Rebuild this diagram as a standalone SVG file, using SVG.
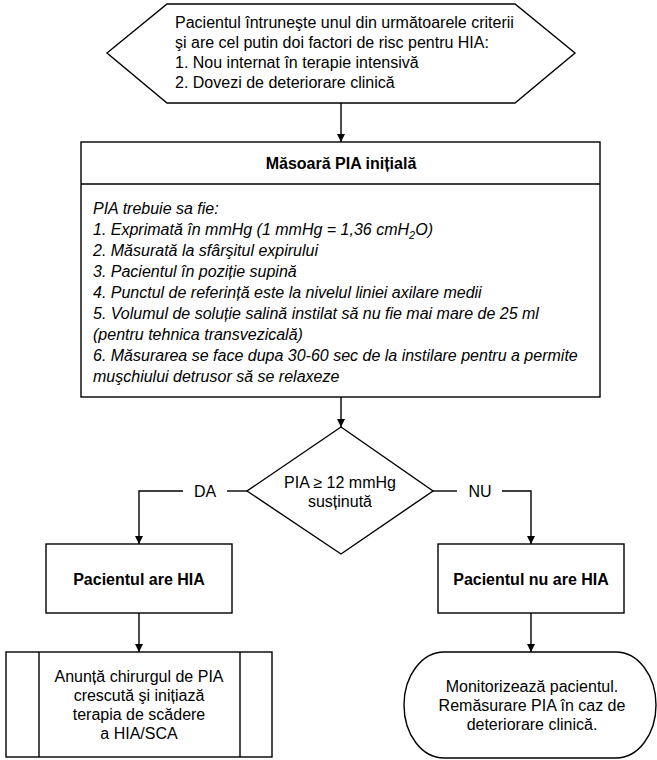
<svg xmlns="http://www.w3.org/2000/svg" width="657" height="760" viewBox="0 0 657 760">
<defs>
<style>
.s{fill:#fff;stroke:#000;stroke-width:1.4}
.c{fill:none;stroke:#000;stroke-width:1.4}
text{font-family:"Liberation Sans",Arial,sans-serif;font-size:16px;fill:#000}
.m{text-anchor:middle}
.b{font-weight:bold}
.i{font-style:italic}
</style>
<marker id="ah" viewBox="0 0 10 10" refX="10" refY="5" markerWidth="9" markerHeight="8" markerUnits="userSpaceOnUse" orient="auto">
<path d="M0,0 L10,5 L0,10 Z" fill="#000"/>
</marker>
</defs>
<rect width="657" height="760" fill="#fff"/>
<g id="connectors">
<line class="c" x1="341" y1="103" x2="341" y2="142" marker-end="url(#ah)"/>
<line class="c" x1="341" y1="397" x2="341" y2="427" marker-end="url(#ah)"/>
<polyline class="c" points="247,491 227,491"/>
<polyline class="c" points="183,491 139,491 139,544" marker-end="url(#ah)"/>
<polyline class="c" points="433,491 457,491"/>
<polyline class="c" points="502,491 531,491 531,544" marker-end="url(#ah)"/>
<line class="c" x1="139" y1="613" x2="139" y2="652" marker-end="url(#ah)"/>
<line class="c" x1="531" y1="613" x2="531" y2="652" marker-end="url(#ah)"/>
<text class="m" x="205" y="497">DA</text>
<text class="m" x="480" y="497">NU</text>
</g>
<g id="start">
<polygon class="s" points="107,53 167,4 515,4 575,53 515,103 167,103"/>
<text x="175" y="28">Pacientul întruneşte unul din următoarele criterii</text>
<text x="175" y="48">şi are cel putin doi factori de risc pentru HIA:</text>
<text x="175" y="68">1. Nou internat în terapie intensivă</text>
<text x="175" y="88">2. Dovezi de deteriorare clinică</text>
</g>
<g id="measure">
<rect class="s" x="81" y="142" width="519" height="255"/>
<line class="c" x1="81" y1="184" x2="600" y2="184"/>
<text class="m b" x="341" y="169">Măsoară PIA inițială</text>
<text class="i" x="93" y="214">PIA trebuie sa fie:</text>
<text class="i" x="93" y="235">1. Exprimată în mmHg (1 mmHg = 1,36 cmH<tspan font-size="11" dy="4">2</tspan><tspan dy="-4">O)</tspan></text>
<text class="i" x="93" y="256">2. Măsurată la sfârşitul expirului</text>
<text class="i" x="93" y="277">3. Pacientul în poziție supină</text>
<text class="i" x="93" y="298">4. Punctul de referință este la nivelul liniei axilare medii</text>
<text class="i" x="93" y="319">5. Volumul de soluție salină instilat să nu fie mai mare de 25 ml</text>
<text class="i" x="93" y="340">(pentru tehnica transvezicală)</text>
<text class="i" x="93" y="361">6. Măsurarea se face dupa 30-60 sec de la instilare pentru a permite</text>
<text class="i" x="93" y="382">muşchiului detrusor să se relaxeze</text>
</g>
<g id="decision">
<polygon class="s" points="341,427 433,491 341,554 247,491"/>
<text class="m" x="340" y="488">PIA ≥ 12 mmHg</text>
<text class="m" x="340" y="507">susținută</text>
</g>
<g id="hia-yes">
<rect class="s" x="46" y="544" width="186" height="69"/>
<text class="m b" x="139" y="585">Pacientul are HIA</text>
</g>
<g id="hia-no">
<rect class="s" x="438" y="544" width="186" height="69"/>
<text class="m b" x="531" y="585">Pacientul nu are HIA</text>
</g>
<g id="notify">
<rect class="s" x="6" y="652" width="266" height="105"/>
<line class="c" x1="39" y1="652" x2="39" y2="757"/>
<line class="c" x1="240" y1="652" x2="240" y2="757"/>
<text class="m" x="139" y="682">Anunță chirurgul de PIA</text>
<text class="m" x="139" y="701">crescută şi inițiază</text>
<text class="m" x="139" y="720">terapia de scădere</text>
<text class="m" x="139" y="739">a HIA/SCA</text>
</g>
<g id="monitor">
<path class="s" d="M444,652 H616 A40,53 0 0 1 616,758 H444 A40,53 0 0 1 444,652 Z"/>
<text class="m" x="532" y="692">Monitorizează pacientul.</text>
<text class="m" x="532" y="711">Remăsurare PIA în caz de</text>
<text class="m" x="532" y="730">deteriorare clinică.</text>
</g>
</svg>
